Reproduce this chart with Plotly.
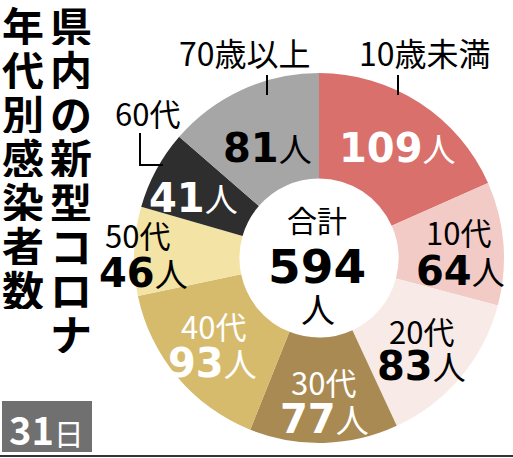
import plotly.graph_objects as go

# ---- data ----
categories = ["10歳未満", "10代", "20代", "30代", "40代", "50代", "60代", "70歳以上"]
values = [109, 64, 83, 77, 93, 46, 41, 81]
colors = ["#d9706b", "#f2cbc6", "#f8ebe7", "#a98a52", "#d6bb6c", "#f3e3a4", "#2e2e2e", "#a6a6a6"]
total_label = "合計"
title_right = "県内の新型コロナ"
title_left = "年代別感染者数"
date_label = "31日"

W, H = 513, 458
CJK = "Noto Sans CJK JP"
NUM = "DejaVu Sans"

fig = go.Figure()

# donut: centre (319, 258) px, radius 185 px
cx, cy, r = 319, 258, 185
fig.add_trace(go.Pie(
    labels=categories, values=values, sort=False, direction="clockwise", rotation=0,
    hole=0.43, textinfo="none", hoverinfo="label+value",
    marker=dict(colors=colors, line=dict(width=0)),
    domain=dict(x=[(cx - r) / W, (cx + r) / W], y=[(H - cy - r) / H, (H - cy + r) / H]),
    showlegend=False,
))


def ann(text, x, y, size, color="black", family=CJK, xanchor="center", yanchor="middle", **kw):
    fig.add_annotation(text=text, x=x / W, y=1 - y / H, xref="paper", yref="paper",
                       showarrow=False, xanchor=xanchor, yanchor=yanchor,
                       font=dict(size=size, color=color, family=family), **kw)


def val_text(v, psize):
    return (f"<b>{v}</b><span style='font-family:{CJK};font-size:{psize}px'>人</span>")


# vertical title, each character placed in its column
for i, ch in enumerate(title_right):
    ann(f"<b>{ch}</b>", 71, 24 + i * 44, 42, height=42, width=42, borderpad=0)
for i, ch in enumerate(title_left):
    ann(f"<b>{ch}</b>", 23, 24 + i * 44, 42, height=42, width=42, borderpad=0)

# category labels and value labels: (category index, name pos, value pos, colour)
label_pos = {
    0: ((425, 52), (397, 148), "white"),
    1: ((458, 232), (460, 271), "black"),
    2: ((421, 330), (421, 366), "black"),
    3: ((323, 381), (324, 419), "white"),
    4: ((213, 325), (212, 363), "white"),
    5: ((137, 234), (143, 273), "black"),
    6: ((147, 113), (193, 198), "white"),
    7: ((245, 52), (267, 148), "black"),
}
for i, (npos, vpos, col) in label_pos.items():
    ann(categories[i], npos[0], npos[1], 32 if "歳" in categories[i] else 31,
        color=("white" if i in (3, 4) else "black"))
    ann(val_text(values[i], 33), vpos[0], vpos[1], 40, color=col, family=NUM)

# leader lines
line = dict(color="black", width=2)
fig.add_shape(type="line", xref="paper", yref="paper", x0=267 / W, x1=267 / W,
              y0=1 - 75 / H, y1=1 - 95 / H, line=line)
fig.add_shape(type="line", xref="paper", yref="paper", x0=398 / W, x1=398 / W,
              y0=1 - 75 / H, y1=1 - 95 / H, line=line)
fig.add_shape(type="path", xref="paper", yref="paper",
              path=f"M {140 / W},{1 - 133 / H} L {140 / W},{1 - 165 / H} L {163 / W},{1 - 165 / H}",
              line=line)

# centre total
ann(total_label, 317, 219, 30)
ann(f"<b>{sum(values)}</b>", 317, 266, 47, family=NUM)
ann("人", 318, 308, 34)

# date box
fig.add_shape(type="rect", xref="paper", yref="paper", x0=2 / W, x1=92 / W,
              y0=1 - 452 / H, y1=1 - 401 / H, fillcolor="#707070", line=dict(width=0))
ann(f"<b>{date_label[:2]}</b><span style='font-size:30px'>{date_label[2:]}</span>",
    46, 428, 38, color="white")

# bottom rule
fig.add_shape(type="line", xref="paper", yref="paper", x0=0, x1=1,
              y0=1 - 456 / H, y1=1 - 456 / H, line=dict(color="#333333", width=2))

fig.update_layout(width=W, height=H, margin=dict(l=0, r=0, t=0, b=0),
                  paper_bgcolor="white", plot_bgcolor="white")
fig.write_html("out.html", config={"displayModeBar": False},
               post_script="document.body.style.margin='0';document.body.style.overflow='hidden';")
